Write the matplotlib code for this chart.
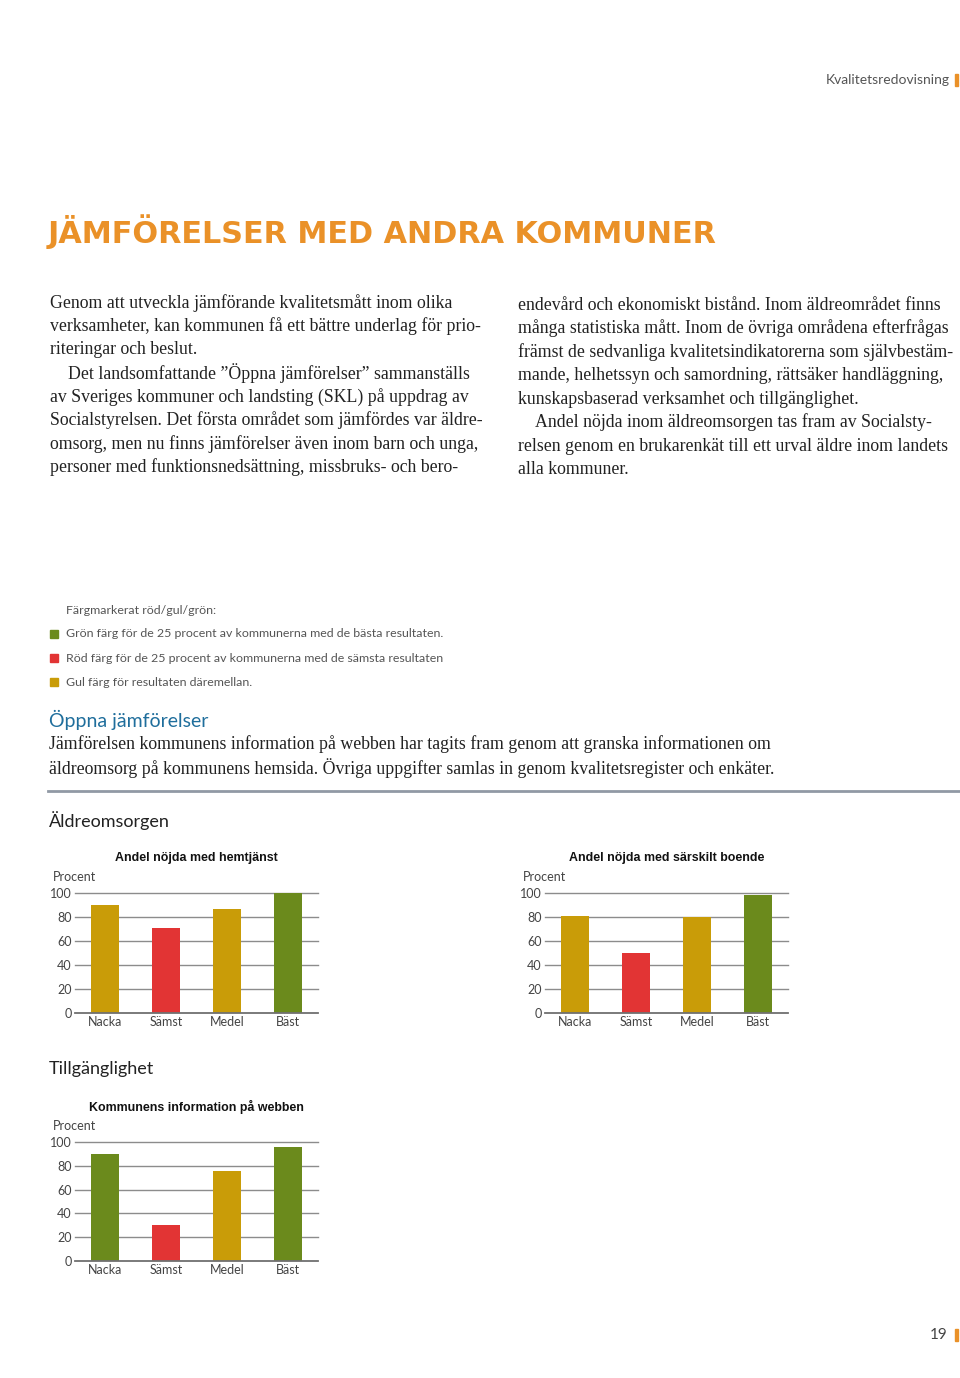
import matplotlib
matplotlib.use('Agg')
import matplotlib.pyplot as plt
from matplotlib.patches import Rectangle
import numpy as np

# page size in pixels
W, H = 960, 1378

# chart data (procent)
categories = ['Nacka', 'Sämst', 'Medel', 'Bäst']
hemtjanst = [90, 71, 87, 100]
hemtjanst_rating = ['gul', 'röd', 'gul', 'grön']
sarskilt_boende = [81, 50, 80, 98]
sarskilt_boende_rating = ['gul', 'röd', 'gul', 'grön']
webben = [90, 30, 76, 96]
webben_rating = ['grön', 'röd', 'gul', 'grön']
yticks = [0, 20, 40, 60, 80, 100]

rating_colors = {'grön': '#6b8a1c', 'röd': '#e23434', 'gul': '#c99c08'}

left_col = [
    "Genom att utveckla jämförande kvalitetsmått inom olika",
    "verksamheter, kan kommunen få ett bättre underlag för prio-",
    "riteringar och beslut.",
    "    Det landsomfattande ”Öppna jämförelser” sammanställs",
    "av Sveriges kommuner och landsting (SKL) på uppdrag av",
    "Socialstyrelsen. Det första området som jämfördes var äldre-",
    "omsorg, men nu finns jämförelser även inom barn och unga,",
    "personer med funktionsnedsättning, missbruks- och bero-",
]
right_col = [
    "endevård och ekonomiskt bistånd. Inom äldreområdet finns",
    "många statistiska mått. Inom de övriga områdena efterfrågas",
    "främst de sedvanliga kvalitetsindikatorerna som självbestäm-",
    "mande, helhetssyn och samordning, rättsäker handläggning,",
    "kunskapsbaserad verksamhet och tillgänglighet.",
    "    Andel nöjda inom äldreomsorgen tas fram av Socialsty-",
    "relsen genom en brukarenkät till ett urval äldre inom landets",
    "alla kommuner.",
]
legend_items = [
    ('grön', "Grön färg för de 25 procent av kommunerna med de bästa resultaten."),
    ('röd', "Röd färg för de 25 procent av kommunerna med de sämsta resultaten"),
    ('gul', "Gul färg för resultaten däremellan."),
]
oppna_text = [
    "Jämförelsen kommunens information på webben har tagits fram genom att granska informationen om",
    "äldreomsorg på kommunens hemsida. Övriga uppgifter samlas in genom kvalitetsregister och enkäter.",
]

SANS = ['Lato', 'DejaVu Sans']
SERIF = ['Liberation Serif', 'DejaVu Serif']
ORANGE = '#ea9128'

fig = plt.figure(figsize=(W / 100, H / 100), dpi=100)
fig.patch.set_facecolor('white')


def fx(x):
    return x / W


def fy(y):
    return 1 - y / H


def txt(x, y, s, **kw):
    kw.setdefault('va', 'center')
    fig.text(fx(x), fy(y), s, **kw)


# header
txt(950, 80, "Kvalitetsredovisning", ha='right', family=SANS, fontsize=10, color='#555555')
fig.patches.append(Rectangle((fx(955), fy(86)), 3 / W, 12 / H, transform=fig.transFigure,
                             color=ORANGE))

# title
txt(48, 232, "JÄMFÖRELSER MED ANDRA KOMMUNER", ha='left', family='DejaVu Sans',
    fontweight='bold', fontsize=21.8, color=ORANGE)

# two columns of body text
for i, line in enumerate(left_col):
    txt(50, 303 + i * 23.5, line, ha='left', family=SERIF, fontsize=12.8, color='#222222')
for i, line in enumerate(right_col):
    txt(518, 305 + i * 23.5, line, ha='left', family=SERIF, fontsize=12.8, color='#222222')

# legend of the colour coding
txt(66, 611, "Färgmarkerat röd/gul/grön:", ha='left', family=SANS, fontsize=8.9, color='#555555')
for i, (rating, label) in enumerate(legend_items):
    y = 634 + i * 24
    fig.patches.append(Rectangle((fx(50), fy(y + 4)), 8 / W, 8 / H, transform=fig.transFigure,
                                 color=rating_colors[rating]))
    txt(66, y, label, ha='left', family=SANS, fontsize=8.9, color='#555555')

txt(49, 720, "Öppna jämförelser", ha='left', family=SANS, fontsize=14, color='#1f6e9c')
for i, line in enumerate(oppna_text):
    txt(49, 744 + i * 24, line, ha='left', family=SERIF, fontsize=12.8, color='#222222')

fig.add_artist(plt.Line2D([fx(48), fx(960)], [fy(791), fy(791)], color='#9199a5', lw=2))

txt(49, 821, "Äldreomsorgen", ha='left', family=SANS, fontsize=13, color='#222222')
txt(49, 1069, "Tillgänglighet", ha='left', family=SANS, fontsize=13, color='#222222')


def bar_chart(left, right, top, bottom, title, values, ratings):
    ax = fig.add_axes([fx(left), fy(bottom), (right - left) / W, (bottom - top) / H])
    x = np.arange(len(categories))
    ax.bar(x, values, width=0.46, color=[rating_colors[r] for r in ratings], zorder=2)
    ax.set_xlim(-0.5, len(categories) - 0.5)
    ax.set_ylim(0, 100)
    ax.set_yticks(yticks)
    ax.set_xticks(x)
    ax.set_xticklabels(categories)
    for t in yticks[1:]:
        ax.axhline(t, color='#8c8c8c', lw=1, zorder=1, clip_on=False)
    ax.axhline(0, color='#707070', lw=1.3, zorder=3, clip_on=False)
    for s in ax.spines.values():
        s.set_visible(False)
    ax.tick_params(length=0, pad=2.5, labelsize=9, labelcolor='#444444')
    for lab in ax.get_xticklabels() + ax.get_yticklabels():
        lab.set_family(SANS)
    txt(left - 22, top - 16, "Procent", ha='left', family=SANS, fontsize=9, color='#444444')
    txt((left + right) / 2, top - 35, title, ha='center', family='Liberation Sans',
        fontweight='bold', fontsize=8.9, color='#111111')
    return ax


bar_chart(75, 318, 893, 1013, "Andel nöjda med hemtjänst", hemtjanst, hemtjanst_rating)
bar_chart(545, 788, 893, 1013, "Andel nöjda med särskilt boende", sarskilt_boende, sarskilt_boende_rating)
bar_chart(75, 318, 1142, 1261, "Kommunens information på webben", webben, webben_rating)

# page number
txt(948, 1335, "19", ha='right', family=SANS, fontsize=11, color='#444444')
fig.patches.append(Rectangle((fx(955), fy(1341)), 3 / W, 12 / H, transform=fig.transFigure,
                             color=ORANGE))

fig.savefig('out.png', dpi=100, facecolor='white')
